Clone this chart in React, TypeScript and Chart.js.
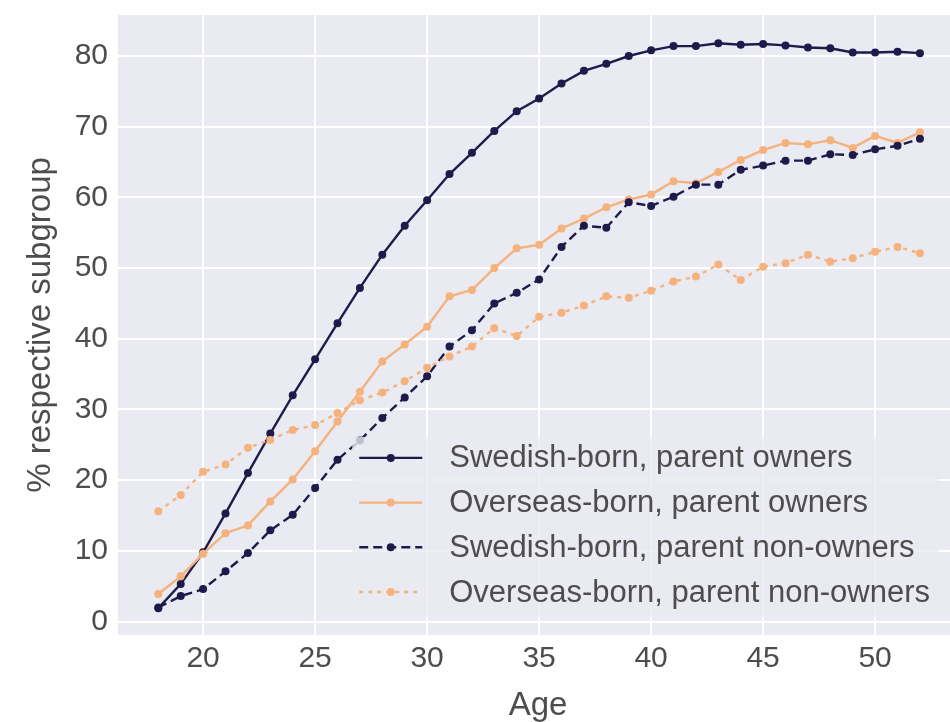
import React, { useEffect, useRef } from 'react';
import { Chart, registerables } from 'chart.js';

Chart.register(...registerables);

const ages = [18, 19, 20, 21, 22, 23, 24, 25, 26, 27, 28, 29, 30, 31, 32, 33, 34, 35, 36, 37, 38, 39, 40, 41, 42, 43, 44, 45, 46, 47, 48, 49, 50, 51, 52];

const swedishBornParentOwners = [1.9, 5.3, 9.8, 15.3, 21.0, 26.6, 32.0, 37.1, 42.2, 47.2, 51.9, 56.0, 59.6, 63.3, 66.3, 69.4, 72.2, 74.0, 76.1, 77.9, 78.9, 80.0, 80.8, 81.4, 81.4, 81.8, 81.6, 81.7, 81.5, 81.2, 81.1, 80.5, 80.5, 80.6, 80.4];
const overseasBornParentOwners = [3.9, 6.4, 9.6, 12.5, 13.6, 17.0, 20.1, 24.1, 28.3, 32.5, 36.8, 39.2, 41.7, 46.0, 46.9, 50.0, 52.8, 53.3, 55.6, 57.0, 58.6, 59.7, 60.4, 62.3, 62.0, 63.6, 65.3, 66.7, 67.7, 67.5, 68.1, 67.0, 68.7, 67.7, 69.2];
const swedishBornParentNonOwners = [2.0, 3.6, 4.6, 7.1, 9.7, 12.9, 15.1, 18.9, 22.9, 25.6, 28.8, 31.7, 34.7, 38.9, 41.2, 45.0, 46.5, 48.4, 53.0, 56.0, 55.7, 59.3, 58.8, 60.1, 61.8, 61.8, 63.9, 64.5, 65.2, 65.2, 66.1, 66.0, 66.8, 67.3, 68.3];
const overseasBornParentNonOwners = [15.6, 17.9, 21.2, 22.2, 24.6, 25.7, 27.1, 27.8, 29.5, 31.3, 32.4, 34.0, 35.9, 37.5, 38.9, 41.5, 40.4, 43.1, 43.7, 44.7, 46.0, 45.8, 46.8, 48.1, 48.8, 50.5, 48.3, 50.2, 50.7, 51.9, 50.9, 51.4, 52.3, 53.0, 52.1];

const seriesLabels = [
  'Swedish-born, parent owners',
  'Overseas-born, parent owners',
  'Swedish-born, parent non-owners',
  'Overseas-born, parent non-owners',
];

const xTicks = [20, 25, 30, 35, 40, 45, 50];
const yTicks = [0, 10, 20, 30, 40, 50, 60, 70, 80];

const xTitle = 'Age';
const yTitle = '% respective subgroup';

const FONT = "'Liberation Sans', Arial, Helvetica, sans-serif";
const TEXT = '#4d4d4d';
const NAVY = '#1e1b4b';
const ORANGE = '#f5b27c';
const PLOT_BG = '#eaeaf2';

const toPoints = (vals: number[]) => ages.map((a, i) => ({ x: a, y: vals[i] }));

const bgPlugin = {
  id: 'plotBg',
  beforeDraw(chart: any) {
    const { ctx, chartArea } = chart;
    ctx.save();
    ctx.fillStyle = '#ffffff';
    ctx.fillRect(0, 0, chart.width, chart.height);
    ctx.fillStyle = PLOT_BG;
    ctx.fillRect(chartArea.left, chartArea.top, chartArea.right - chartArea.left, chartArea.bottom - chartArea.top);
    ctx.restore();
  },
};

const legendPlugin = {
  id: 'insideLegend',
  afterDraw(chart: any) {
    const { ctx, chartArea } = chart;
    ctx.save();
    ctx.font = `31px ${FONT}`;
    const widths = seriesLabels.map((t) => ctx.measureText(t).width);
    const maxW = Math.max(...widths);
    const padL = 7, handle = 63, gap = 27, padR = 9;
    const rowH = 44.7;
    const right = chartArea.right - 19;
    const bottom = chartArea.bottom - 18;
    const h = 21 + rowH * 3 + 25;
    const w = padL + handle + gap + maxW + padR;
    const left = right - w;
    const top = bottom - h;
    ctx.fillStyle = 'rgba(234,234,242,0.8)';
    ctx.beginPath();
    const r = 5;
    ctx.moveTo(left + r, top);
    ctx.lineTo(right - r, top);
    ctx.quadraticCurveTo(right, top, right, top + r);
    ctx.lineTo(right, bottom - r);
    ctx.quadraticCurveTo(right, bottom, right - r, bottom);
    ctx.lineTo(left + r, bottom);
    ctx.quadraticCurveTo(left, bottom, left, bottom - r);
    ctx.lineTo(left, top + r);
    ctx.quadraticCurveTo(left, top, left + r, top);
    ctx.closePath();
    ctx.fill();

    chart.data.datasets.forEach((ds: any, i: number) => {
      const cy = top + 21 + i * rowH;
      const x0 = left + padL;
      ctx.strokeStyle = ds.borderColor;
      ctx.lineWidth = ds.borderWidth;
      ctx.setLineDash(ds.borderDash || []);
      ctx.beginPath();
      ctx.moveTo(x0, cy);
      ctx.lineTo(x0 + handle, cy);
      ctx.stroke();
      ctx.setLineDash([]);
      ctx.fillStyle = ds.pointBackgroundColor;
      ctx.beginPath();
      ctx.arc(x0 + handle / 2, cy, ds.pointRadius, 0, Math.PI * 2);
      ctx.fill();
      ctx.fillStyle = TEXT;
      ctx.textBaseline = 'middle';
      ctx.textAlign = 'left';
      ctx.fillText(ds.label, x0 + handle + gap, cy + 1);
    });
    ctx.restore();
  },
};

export default function App() {
  const ref = useRef<HTMLCanvasElement>(null);

  useEffect(() => {
    const canvas = ref.current;
    if (!canvas) return;
    const mk = (label: string, vals: number[], color: string, dash: number[], order: number) => ({
      label,
      data: toPoints(vals),
      borderColor: color,
      backgroundColor: color,
      borderWidth: 2.4,
      borderDash: dash,
      pointRadius: 4,
      pointBackgroundColor: color,
      pointBorderWidth: 0,
      pointHoverRadius: 4,
      tension: 0,
      fill: false,
      order,
    });
    const chart = new Chart(canvas, {
      type: 'line',
      data: {
        datasets: [
          mk(seriesLabels[0], swedishBornParentOwners, NAVY, [], 4),
          mk(seriesLabels[1], overseasBornParentOwners, ORANGE, [], 3),
          mk(seriesLabels[2], swedishBornParentNonOwners, NAVY, [9, 5], 2),
          mk(seriesLabels[3], overseasBornParentNonOwners, ORANGE, [4, 5], 1),
        ] as any,
      },
      options: {
        responsive: false,
        animation: false,
        devicePixelRatio: 1,
        layout: { padding: { top: 15, right: 1, left: 0, bottom: 0 } },
        plugins: { legend: { display: false }, tooltip: { enabled: false } },
        scales: {
          x: {
            type: 'linear',
            min: 16.2,
            max: 53.7,
            afterBuildTicks: (s: any) => {
              s.ticks = xTicks.map((v) => ({ value: v }));
            },
            afterFit: (s: any) => {
              s.height = 87;
              s.paddingLeft = 0;
              s.paddingRight = 0;
            },
            grid: { color: '#ffffff', lineWidth: 2, drawTicks: false },
            border: { display: false },
            ticks: { font: { family: FONT, size: 30 }, color: TEXT, padding: 6, maxRotation: 0, autoSkip: false },
            title: { display: true, text: xTitle, color: TEXT, font: { family: FONT, size: 33, lineHeight: 1 }, padding: 0 },
          },
          y: {
            type: 'linear',
            min: -1.9,
            max: 85.8,
            afterBuildTicks: (s: any) => {
              s.ticks = yTicks.map((v) => ({ value: v }));
            },
            afterFit: (s: any) => {
              s.width = 118;
              s.paddingTop = 0;
              s.paddingBottom = 0;
            },
            grid: { color: '#ffffff', lineWidth: 2, drawTicks: false },
            border: { display: false },
            ticks: { font: { family: FONT, size: 30 }, color: TEXT, padding: 10, autoSkip: false },
            title: { display: true, text: yTitle, color: TEXT, font: { family: FONT, size: 33, lineHeight: 1 }, padding: { top: 24, bottom: 0 } },
          },
        },
      } as any,
      plugins: [bgPlugin, legendPlugin],
    });
    return () => chart.destroy();
  }, []);

  return (
    <div style={{ position: 'absolute', left: 0, top: 0, width: 950, height: 722, overflow: 'hidden', background: '#fff' }}>
      <canvas ref={ref} width={962} height={722} style={{ display: 'block', width: 962, height: 722 }} />
    </div>
  );
}
